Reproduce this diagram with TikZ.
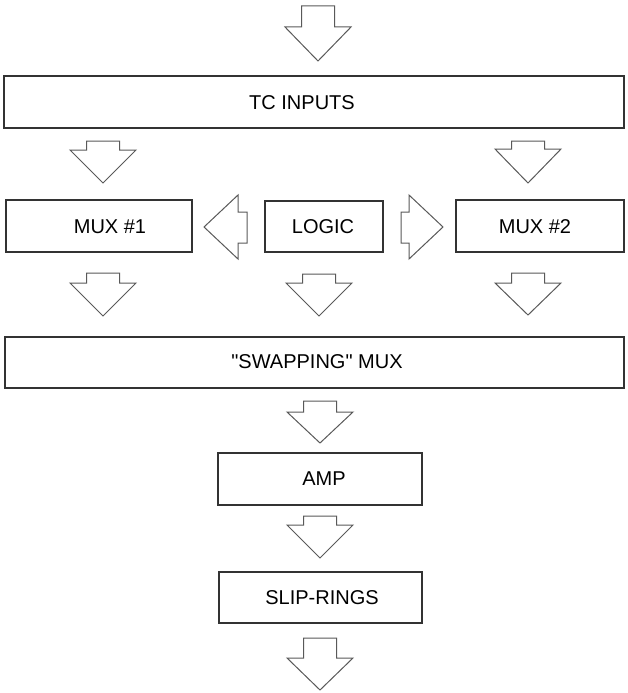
\documentclass[tikz,border=0pt]{standalone}
\usepackage{fontspec}
\newfontfamily\lsans{Liberation Sans}[Ligatures=ResetAll]
\begin{document}
\begin{tikzpicture}[x=1pt,y=-1pt,
  box/.style={draw=black!80,line width=1.3pt,fill=white,rectangle,inner sep=0pt},
  lbl/.style={font=\lsans\fontsize{20}{24}\selectfont,inner sep=0pt,anchor=center},
  blockarrow/.style={draw=black!65,line width=1pt,fill=white,line join=miter}]
\useasboundingbox (0,0) rectangle (628,693);
% boxes
\node[box,minimum width=620pt,minimum height=52pt] (tc) at (314,102) {};
\node[box,minimum width=186pt,minimum height=52pt] (mux1) at (99,226) {};
\node[box,minimum width=118pt,minimum height=51pt] (logic) at (324,226.5) {};
\node[box,minimum width=168pt,minimum height=52pt] (mux2) at (540,226) {};
\node[box,minimum width=619pt,minimum height=51pt] (swap) at (314.5,362.5) {};
\node[box,minimum width=204pt,minimum height=52pt] (amp) at (320,479) {};
\node[box,minimum width=203pt,minimum height=51pt] (slip) at (320.5,597.5) {};
% labels
\node[lbl] (tct) at (302,103) {TC INPUTS};
\node[lbl] (mux1t) at (110,227) {MUX \#1};
\node[lbl] (logict) at (323,227) {LOGIC};
\node[lbl] (mux2t) at (535,227) {MUX \#2};
\node[lbl] (swapt) at (317,362) {"SWAPPING" MUX};
\node[lbl] (ampt) at (324,479) {AMP};
\node[lbl] (slipt) at (322,598) {SLIP-RINGS};
% down block arrows
\foreach \cx/\t/\s/\p in {318/6/27/61, 103/141/150/183, 528/141/149/183,
  103/273/283/316, 319/274/283/316, 528/273/283/315,
  320/401/412/443, 320/516/525/558, 320/638/658/690}
  \draw[blockarrow] ({\cx-16.5},\t) -- ({\cx+16.5},\t) -- ({\cx+16.5},\s) -- ({\cx+33},\s)
    -- (\cx,\p) -- ({\cx-33},\s) -- ({\cx-16.5},\s) -- cycle;
% horizontal block arrows from LOGIC
\draw[blockarrow] (247,212) -- (247,243) -- (238,243) -- (238,259) -- (204,227)
  -- (238,195) -- (238,212) -- cycle;
\draw[blockarrow] (401,212) -- (401,243) -- (409,243) -- (409,259) -- (443,227)
  -- (409,195) -- (409,212) -- cycle;
\end{tikzpicture}
\end{document}
